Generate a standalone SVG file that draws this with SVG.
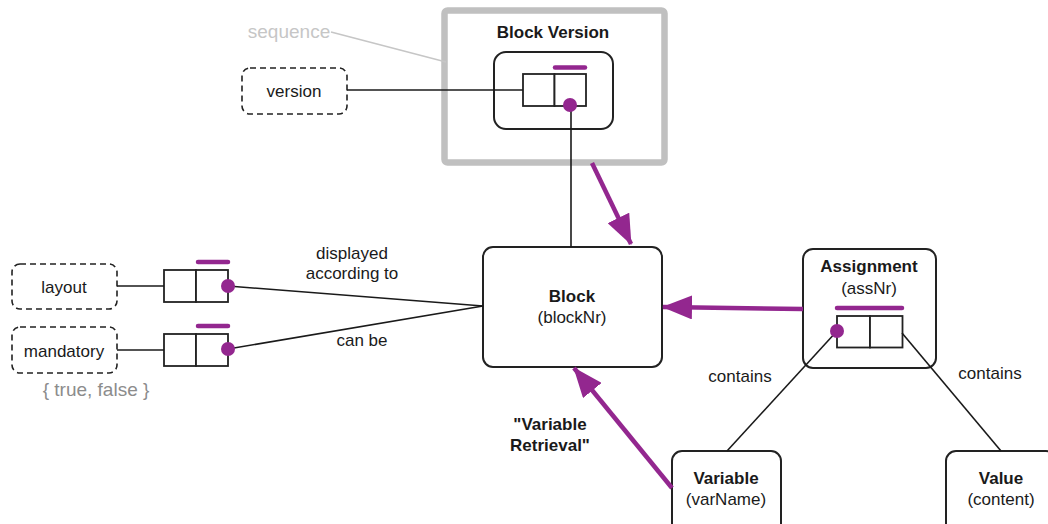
<svg xmlns="http://www.w3.org/2000/svg" width="1048" height="524" viewBox="0 0 1048 524">
  <defs>
    <style>
      text { font-family: "Liberation Sans", Arial, sans-serif; font-size: 17px; fill: #1a1a1a; text-anchor: middle; }
      .bold { font-weight: bold; }
      .muted { fill: #8c8c8c; font-size: 19px; }
      .faint { fill: #c6c6c6; font-size: 19px; }
      .node { fill: #ffffff; stroke: #222222; stroke-width: 2; }
      .attr { fill: #ffffff; stroke: #222222; stroke-width: 1.6; stroke-dasharray: 6 4; }
      .cell { fill: #ffffff; stroke: #222222; stroke-width: 1.8; }
      .link { fill: none; stroke: #1a1a1a; stroke-width: 1.6; }
      .key { stroke: #93278f; stroke-width: 4.5; stroke-linecap: round; }
      .dot { fill: #93278f; }
      .ref { fill: none; stroke: #93278f; stroke-width: 4.5; marker-end: url(#head); }
    </style>
    <marker id="head" markerUnits="userSpaceOnUse" markerWidth="30" markerHeight="24" refX="29" refY="12" orient="auto">
      <path d="M0,0 L30,12 L0,24 Z" fill="#93278f"/>
    </marker>
  </defs>

  <!-- weak entity frame -->
  <g id="block-version">
    <rect x="444.5" y="10.5" width="220" height="152" rx="3" fill="#ffffff" stroke="#c0c0c0" stroke-width="6.5"/>
    <text class="bold" x="553" y="38">Block Version</text>
    <rect class="node" x="494" y="52" width="119" height="77" rx="12"/>
    <rect class="cell" x="523" y="74" width="31.5" height="32"/>
    <rect class="cell" x="554.5" y="74" width="31.5" height="32"/>
    <line class="key" x1="555" y1="67.5" x2="585" y2="67.5"/>
  </g>

  <g id="sequence-note">
    <text class="faint" x="289" y="38">sequence</text>
    <line x1="331" y1="32" x2="446" y2="62" stroke="#c6c6c6" stroke-width="1.5"/>
  </g>

  <g id="version">
    <rect class="attr" x="242" y="68" width="105" height="46" rx="8"/>
    <text x="294" y="97">version</text>
  </g>

  <g id="layout">
    <rect class="attr" x="12" y="264" width="105" height="45" rx="8"/>
    <text x="64" y="293">layout</text>
  </g>

  <g id="mandatory">
    <rect class="attr" x="12" y="327" width="105" height="46" rx="8"/>
    <text x="64" y="357">mandatory</text>
    <text class="muted" x="96" y="396">{ true, false }</text>
  </g>

  <g id="layout-key">
    <rect class="cell" x="164" y="270" width="32" height="32"/>
    <rect class="cell" x="196" y="270" width="32" height="32"/>
    <line class="key" x1="198" y1="262" x2="228" y2="262"/>
  </g>

  <g id="mandatory-key">
    <rect class="cell" x="164" y="334" width="32" height="32"/>
    <rect class="cell" x="196" y="334" width="32" height="32"/>
    <line class="key" x1="198" y1="326" x2="228" y2="326"/>
  </g>

  <g id="block">
    <rect class="node" x="483" y="247" width="179" height="120" rx="10"/>
    <text class="bold" x="572" y="302">Block</text>
    <text x="572" y="323">(blockNr)</text>
  </g>

  <g id="assignment">
    <rect class="node" x="803" y="249" width="133" height="119" rx="10"/>
    <text class="bold" x="869" y="272">Assignment</text>
    <text x="869" y="294">(assNr)</text>
    <rect class="cell" x="837" y="316" width="33" height="31.5"/>
    <rect class="cell" x="870" y="316" width="32.5" height="31.5"/>
    <line class="key" x1="837" y1="308" x2="902" y2="308"/>
  </g>

  <g id="variable">
    <rect class="node" x="672" y="451" width="109" height="90" rx="10"/>
    <text class="bold" x="726" y="484">Variable</text>
    <text x="726" y="505">(varName)</text>
  </g>

  <g id="value">
    <rect class="node" x="946" y="451" width="110" height="90" rx="10"/>
    <text class="bold" x="1001" y="484">Value</text>
    <text x="1001" y="505">(content)</text>
  </g>

  <g id="connectors">
    <line class="link" x1="347" y1="90" x2="523" y2="90"/>
    <line class="link" x1="571" y1="105" x2="571" y2="247"/>
    <line class="link" x1="117" y1="286" x2="164" y2="286"/>
    <line class="link" x1="117" y1="350" x2="164" y2="350"/>
    <line class="link" x1="228" y1="286" x2="483" y2="306"/>
    <line class="link" x1="228" y1="349" x2="483" y2="306"/>
    <line class="link" x1="837" y1="331" x2="727" y2="451"/>
    <line class="link" x1="902" y1="333" x2="1001" y2="451"/>

    <circle class="dot" cx="570" cy="105" r="7"/>
    <circle class="dot" cx="228" cy="286" r="7"/>
    <circle class="dot" cx="228" cy="349" r="7"/>
    <circle class="dot" cx="837" cy="331" r="7"/>

    <line class="ref" x1="592" y1="163" x2="631" y2="244"/>
    <line class="ref" x1="803" y1="309" x2="663" y2="307"/>
    <line class="ref" x1="672" y1="488" x2="574" y2="368"/>

    <text x="352" y="259">displayed</text>
    <text x="352" y="279">according to</text>
    <text x="362" y="346">can be</text>
    <text x="740" y="382">contains</text>
    <text x="990" y="379">contains</text>
    <text class="bold" x="550" y="430">"Variable</text>
    <text class="bold" x="550" y="451">Retrieval"</text>
  </g>
</svg>
